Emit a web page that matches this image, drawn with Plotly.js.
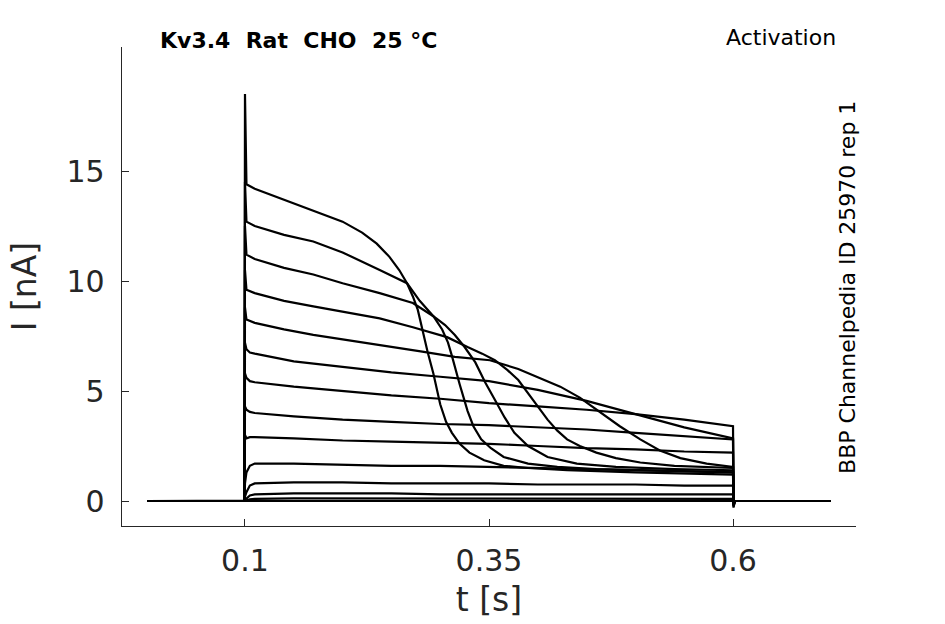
<!DOCTYPE html>
<html>
<head>
<meta charset="utf-8">
<script src="https://cdn.plot.ly/plotly-3.0.1.min.js"></script>
<style>
  html, body { margin: 0; padding: 0; background: #fff; }
  #myDiv { width: 945px; height: 624px; }
</style>
</head>
<body>
<div id="myDiv"></div>
<script>
// protocol times (s)
var tStart = 0, tOn = 0.1, tOff = 0.6, tEnd = 0.7;

// inactivating sweeps, each with own time samples
var t1 = [0.1015, 0.11, 0.14, 0.17, 0.2, 0.22, 0.235, 0.248, 0.258, 0.266, 0.272, 0.277, 0.282, 0.287, 0.293, 0.300, 0.306, 0.312, 0.320, 0.330, 0.345, 0.365, 0.39, 0.43, 0.5, 0.55, 0.6];
var i1 = [14.4, 14.2, 13.7, 13.2, 12.7, 12.2, 11.7, 11.1, 10.5, 9.9, 9.3, 8.7, 7.7, 6.8, 5.8, 4.4, 3.6, 3.1, 2.6, 2.2, 1.85, 1.6, 1.5, 1.4, 1.3, 1.25, 1.2];

var t2 = [0.1015, 0.11, 0.14, 0.17, 0.2, 0.238, 0.266, 0.279, 0.293, 0.302, 0.308, 0.312, 0.316, 0.320, 0.324, 0.328, 0.334, 0.342, 0.352, 0.365, 0.39, 0.42, 0.46, 0.52, 0.6];
var i2 = [12.7, 12.5, 12.1, 11.8, 11.3, 10.5, 9.9, 9.1, 8.4, 7.8, 7.2, 6.6, 5.9, 5.3, 4.7, 4.1, 3.4, 2.8, 2.4, 2.0, 1.7, 1.55, 1.45, 1.38, 1.3];

var t3 = [0.1015, 0.11, 0.14, 0.17, 0.2, 0.238, 0.272, 0.293, 0.305, 0.315, 0.325, 0.336, 0.346, 0.356, 0.366, 0.376, 0.39, 0.41, 0.44, 0.48, 0.54, 0.6];
var i3 = [11.2, 11.0, 10.6, 10.3, 9.9, 9.45, 9.0, 8.4, 8.0, 7.55, 7.0, 6.3, 5.4, 4.6, 3.8, 3.1, 2.5, 2.0, 1.7, 1.55, 1.45, 1.4];

var t4 = [0.1015, 0.11, 0.14, 0.17, 0.2, 0.238, 0.272, 0.307, 0.328, 0.343, 0.356, 0.369, 0.380, 0.390, 0.400, 0.410, 0.420, 0.430, 0.443, 0.46, 0.48, 0.505, 0.54, 0.6];
var i4 = [9.6, 9.45, 9.1, 8.85, 8.6, 8.3, 7.9, 7.45, 7.0, 6.7, 6.4, 5.95, 5.5, 4.9, 4.3, 3.7, 3.2, 2.8, 2.5, 2.2, 1.95, 1.75, 1.6, 1.5];

var t5 = [0.1015, 0.11, 0.14, 0.17, 0.2, 0.238, 0.28, 0.315, 0.351, 0.38, 0.405, 0.423, 0.443, 0.464, 0.484, 0.505, 0.525, 0.546, 0.573, 0.6];
var i5 = [8.25, 8.1, 7.8, 7.55, 7.35, 7.1, 6.8, 6.55, 6.4, 6.0, 5.55, 5.2, 4.7, 4.05, 3.4, 2.8, 2.3, 1.95, 1.7, 1.55];

// slowly decaying sweeps, shared time samples
var tFlat = [0.1015, 0.105, 0.11, 0.15, 0.2, 0.25, 0.3, 0.35, 0.4, 0.45, 0.5, 0.55, 0.6];
var i6  = [6.9, 6.75, 6.7, 6.35, 6.1, 5.85, 5.65, 5.45, 5.05, 4.55, 3.95, 3.35, 2.85];
var i7  = [5.6, 5.45, 5.4, 5.2, 5.0, 4.8, 4.65, 4.45, 4.3, 4.15, 3.95, 3.7, 3.4];
var i8  = [4.15, 4.05, 4.0, 3.85, 3.7, 3.6, 3.5, 3.45, 3.35, 3.25, 3.1, 2.95, 2.8];
var i9  = [2.85, 2.9, 2.9, 2.85, 2.75, 2.7, 2.65, 2.6, 2.5, 2.4, 2.35, 2.25, 2.2];
var i10 = [1.3, 1.6, 1.7, 1.7, 1.65, 1.6, 1.6, 1.55, 1.5, 1.45, 1.4, 1.35, 1.3];
var i11 = [0.4, 0.7, 0.8, 0.85, 0.85, 0.8, 0.8, 0.8, 0.75, 0.75, 0.75, 0.7, 0.7];
var i12 = [0.1, 0.25, 0.3, 0.35, 0.35, 0.35, 0.3, 0.3, 0.3, 0.3, 0.3, 0.3, 0.3];
var i13 = [0.02, 0.08, 0.1, 0.12, 0.12, 0.12, 0.1, 0.1, 0.1, 0.1, 0.1, 0.1, 0.1];
var i14 = [0, 0.02, 0.03, 0.03, 0.03, 0.03, 0.03, 0.03, 0.03, 0.03, 0.03, 0.03, 0.03];

// onset transient peak and offset dip per sweep (nA)
var onsetPeak = [18.5, 14.5, 12.5, 10.5, 8.8, 7.2, 5.8, 4.3, 3.0, 0.8, 0.2, 0.05, 0, 0];
var offsetDip = [-0.3, -0.25, -0.2, -0.2, -0.15, -0.15, -0.1, -0.1, -0.05, 0, 0, 0, 0, 0];

var sweepTimes = [t1, t2, t3, t4, t5, tFlat, tFlat, tFlat, tFlat, tFlat, tFlat, tFlat, tFlat, tFlat];
var sweepCurrents = [i1, i2, i3, i4, i5, i6, i7, i8, i9, i10, i11, i12, i13, i14];

var xTicks = [0.1, 0.35, 0.6];
var xTickText = ['0.1', '0.35', '0.6'];
var yTicks = [0, 5, 10, 15];

var data = [];
for (var k = sweepCurrents.length - 1; k >= 0; k--) {
  var x = [tStart, tOn - 0.0005, tOn].concat(sweepTimes[k], [tOff + 0.0005, tOff + 0.002, tEnd]);
  var y = [0, 0, onsetPeak[k]].concat(sweepCurrents[k], [offsetDip[k], 0, 0]);
  data.push({
    x: x, y: y, type: 'scatter', mode: 'lines',
    line: {color: '#000000', width: 2.2},
    hoverinfo: 'skip'
  });
}

var axisCol = '#262626';
var layout = {
  width: 945, height: 624,
  margin: {l: 122, r: 89, t: 47, b: 98},
  paper_bgcolor: '#ffffff', plot_bgcolor: '#ffffff',
  showlegend: false,
  hovermode: false,
  font: {family: 'DejaVu Sans', color: axisCol},
  xaxis: {
    range: [-0.026, 0.726],
    tickvals: xTicks, ticktext: xTickText,
    ticks: 'inside', ticklen: 7, tickwidth: 1, tickcolor: axisCol,
    showline: true, linecolor: axisCol, linewidth: 1.3,
    showgrid: false, zeroline: false,
    tickfont: {size: 30, color: axisCol},
    ticklabelstandoff: 8,
    title: {text: 't [s]', font: {size: 33, color: axisCol}, standoff: 10}
  },
  yaxis: {
    range: [-1.136, 20.64],
    tickvals: yTicks,
    ticks: 'inside', ticklen: 7, tickwidth: 1, tickcolor: axisCol,
    showline: true, linecolor: axisCol, linewidth: 1.3,
    showgrid: false, zeroline: false,
    tickfont: {size: 30, color: axisCol},
    ticklabelstandoff: 10,
    title: {text: 'I [nA]', font: {size: 33, color: axisCol}, standoff: 20}
  },
  annotations: [
    {text: '<b>Kv3.4\u00A0\u00A0Rat\u00A0\u00A0CHO\u00A0\u00A025\u00A0°C</b>', xref: 'paper', yref: 'paper',
     x: 0.049, y: 1.0146, xanchor: 'left', yanchor: 'middle', showarrow: false,
     font: {size: 22, color: '#000000'}},
    {text: 'Activation', xref: 'paper', yref: 'paper',
     x: 0.9755, y: 1.0188, xanchor: 'right', yanchor: 'middle', showarrow: false,
     font: {size: 22, color: '#000000'}},
    {text: 'BBP Channelpedia ID 25970 rep 1', xref: 'paper', yref: 'paper',
     x: 0.989, y: 0.499, xanchor: 'center', yanchor: 'middle', textangle: -90, showarrow: false,
     font: {size: 22, color: '#000000'}}
  ]
};

Plotly.newPlot('myDiv', data, layout, {staticPlot: true, displayModeBar: false});
</script>
</body>
</html>
